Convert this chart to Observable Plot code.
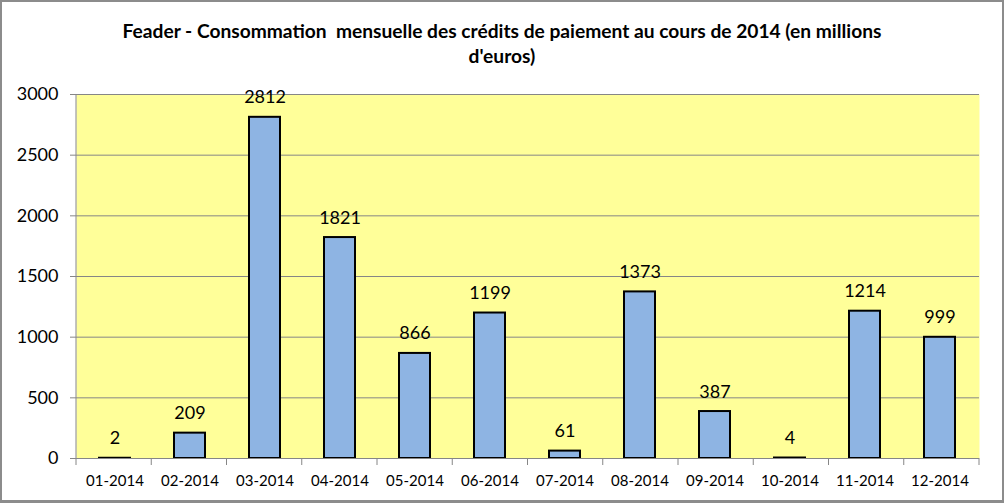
<!DOCTYPE html>
<html>
<head>
<meta charset="utf-8">
<script src="https://cdn.jsdelivr.net/npm/d3@7"></script>
<script src="https://cdn.jsdelivr.net/npm/@observablehq/plot@0.6"></script>
<style>
  html, body { margin: 0; padding: 0; background: #fff; }
  #wrap { position: relative; width: 1004px; height: 503px; overflow: hidden; background: #fff; font-family: Lato, "Open Sans", sans-serif; }
  #title { position: absolute; left: 0; top: 18px; width: 1004px; text-align: center; font-weight: bold; font-size: 19.2px; line-height: 25px; color: #000; }
  #chart { position: absolute; left: 0; top: 75px; }
  #frame { position: absolute; left: 0; top: 0; width: 1004px; height: 503px; box-sizing: border-box; border: 2px solid #8c8c8c; border-bottom-width: 3px; pointer-events: none; }
</style>
</head>
<body>
<div id="wrap">
  <div id="title">Feader - Consommation&nbsp; mensuelle des crédits de paiement au cours de 2014 (en millions<br>d'euros)</div>
  <div id="chart"></div>
  <div id="frame"></div>
</div>
<script>
const months = ["01-2014","02-2014","03-2014","04-2014","05-2014","06-2014","07-2014","08-2014","09-2014","10-2014","11-2014","12-2014"];
const values = [2, 209, 2812, 1821, 866, 1199, 61, 1373, 387, 4, 1214, 999];
const yTicks = [0, 500, 1000, 1500, 2000, 2500, 3000];

const data = months.map((m, i) => ({month: m, value: values[i]}));

const chart = Plot.plot({
  width: 1004,
  height: 428,
  marginTop: 19,
  marginBottom: 45,
  marginLeft: 76,
  marginRight: 25,
  style: {fontFamily: "Lato, 'Open Sans', sans-serif", background: "transparent", overflow: "visible"},
  x: {domain: months, paddingInner: 0.585, paddingOuter: 0.2925, label: null},
  y: {domain: [0, 3000], label: null, ticks: yTicks},
  marks: [
    Plot.frame({fill: "#FFFF99", stroke: null}),
    Plot.gridY(yTicks, {stroke: "#868686", strokeOpacity: 1, strokeWidth: 1}),
    Plot.barY(data, {x: "month", y: "value", fill: "#8EB4E3", stroke: "#000", strokeWidth: 2}),
    Plot.text(data, {x: "month", y: "value", text: d => String(d.value), dy: -14, lineAnchor: "bottom", fontSize: 18, fill: "#000"}),
    Plot.axisY(yTicks, {tickSize: 6, tickPadding: 12, fontSize: 18, stroke: "#868686", fill: "#000", tickFormat: d => String(d)}),
    Plot.axisX({tickSize: 0, tickPadding: 17, fontSize: 15, fill: "#000"})
  ]
});
document.getElementById("chart").appendChild(chart);

// Excel-like category boundary ticks and axis lines, positioned from the library's scales
const xs = chart.scale("x");
const ys = chart.scale("y");
const svg = d3.select(chart);
const left = xs.range[0], right = xs.range[1];
const step = (right - left) / months.length;
const g = svg.append("g").attr("stroke", "#868686").attr("stroke-width", 1);
g.append("line").attr("x1", left).attr("x2", left).attr("y1", ys.apply(3000)).attr("y2", ys.apply(0) + 0.5);
g.append("line").attr("x1", left).attr("x2", right).attr("y1", ys.apply(0) + 0.5).attr("y2", ys.apply(0) + 0.5);
for (let i = 0; i <= months.length; i++) {
  const x = left + i * step;
  g.append("line").attr("x1", x).attr("x2", x).attr("y1", ys.apply(0)).attr("y2", ys.apply(0) + 7);
}
</script>
</body>
</html>
